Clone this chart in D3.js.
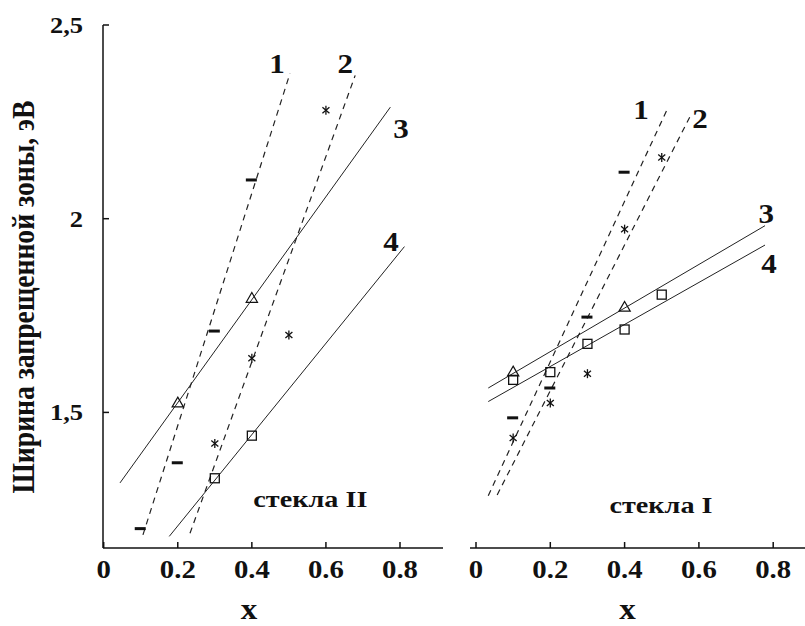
<!DOCTYPE html>
<html>
<head>
<meta charset="utf-8">
<script src="https://cdn.jsdelivr.net/npm/d3@7/dist/d3.min.js"></script>
<style>
  html, body { margin: 0; padding: 0; background: #fff; }
  svg { display: block; }
  text { font-family: "Liberation Serif", "Times New Roman", serif; font-weight: bold; fill: #111; }
</style>
</head>
<body>
<svg id="chart" width="805" height="626"></svg>
<script>
// ---------- data ----------
const xTicks = [0, 0.2, 0.4, 0.6, 0.8];
const xTickLabels = ["0", "0.2", "0.4", "0.6", "0.8"];
const yTicks = [1.5, 2, 2.5];
const yTickLabels = ["1,5", "2", "2,5"];
const yTitle = "Ширина запрещенной зоны, эВ";
const xTitle = "x";

// Panel "стекла II" (left)
const g2Title = "стекла II";
const g2Series1 = [[0.1, 1.20], [0.2, 1.37], [0.3, 1.71], [0.4, 2.10]];
const g2Series2 = [[0.3, 1.42], [0.4, 1.64], [0.5, 1.70], [0.6, 2.28]];
const g2Series3 = [[0.2, 1.52], [0.4, 1.79]];
const g2Series4 = [[0.3, 1.33], [0.4, 1.44]];
const g2Fit1 = [[0.106, 1.184], [0.503, 2.375]];
const g2Fit2 = [[0.233, 1.188], [0.679, 2.370]];
const g2Fit3 = [[0.044, 1.318], [0.774, 2.288]];
const g2Fit4 = [[0.177, 1.180], [0.812, 1.928]];

// Panel "стекла I" (right)
const g1Title = "стекла I";
const g1Series1 = [[0.1, 1.486], [0.2, 1.563], [0.3, 1.746], [0.4, 2.12]];
const g1Series2 = [[0.1, 1.434], [0.2, 1.524], [0.3, 1.60], [0.4, 1.973], [0.5, 2.158]];
const g1Series3 = [[0.1, 1.60], [0.4, 1.767]];
const g1Series4 = [[0.1, 1.584], [0.2, 1.604], [0.3, 1.677], [0.4, 1.714], [0.5, 1.804]];
const g1Fit1 = [[0.033, 1.285], [0.513, 2.279]];
const g1Fit2 = [[0.057, 1.287], [0.580, 2.271]];
const g1Fit3 = [[0.033, 1.563], [0.778, 1.982]];
const g1Fit4 = [[0.033, 1.528], [0.778, 1.932]];

const curveNames = ["1", "2", "3", "4"];

// ---------- layout ----------
const svg = d3.select("#chart");
const Y0 = 548, Y1 = 25;
const y = d3.scaleLinear().domain([1.15, 2.5]).range([Y0, Y1]);
const xL = d3.scaleLinear().domain([0, 0.8]).range([103.7, 400]);
const xR = d3.scaleLinear().domain([0, 0.8]).range([476, 773.2]);
const SX = 1.15;

function label(g, px, py, txt, size, anchor, sx) {
  return g.append("text")
    .attr("transform", `translate(${px},${py}) scale(${sx},1)`)
    .attr("text-anchor", anchor)
    .style("font-size", size + "px")
    .text(txt);
}

// ---------- axes ----------
const axes = svg.append("g").attr("stroke", "#111").attr("stroke-width", 1.5);
axes.append("line").attr("x1", 103).attr("x2", 103).attr("y1", Y1).attr("y2", Y0);
axes.append("line").attr("x1", 103).attr("x2", 443).attr("y1", Y0).attr("y2", Y0);
axes.append("line").attr("x1", 470).attr("x2", 805).attr("y1", Y0).attr("y2", Y0);

yTicks.forEach((t, i) => {
  axes.append("line").attr("x1", 103).attr("x2", 109).attr("y1", y(t)).attr("y2", y(t));
  label(svg, 83, y(t) + 8, yTickLabels[i], 23, "end", SX);
});
[xL, xR].forEach(xs => {
  xTicks.forEach((t, i) => {
    axes.append("line").attr("x1", xs(t)).attr("x2", xs(t)).attr("y1", Y0).attr("y2", Y0 - 6);
    label(svg, xs(t), 578, xTickLabels[i], 25, "middle", SX);
  });
});

// axis titles
svg.append("text")
  .attr("transform", `translate(34,297) scale(${SX},1) rotate(-90)`)
  .attr("text-anchor", "middle")
  .attr("textLength", 393)
  .attr("lengthAdjust", "spacingAndGlyphs")
  .style("font-size", "27px")
  .text(yTitle);
label(svg, xL(0.392), 619, xTitle, 30, "middle", 1.1);
label(svg, xR(0.408), 619, xTitle, 30, "middle", 1.1);

// ---------- marks ----------
function drawPanel(xs, fits, series, names, namePos, title, titlePos, titleLen) {
  const g = svg.append("g");
  const line = d3.line().x(d => xs(d[0])).y(d => y(d[1]));
  fits.forEach((f, i) => {
    g.append("path").attr("d", line(f))
      .attr("fill", "none").attr("stroke", "#222").attr("stroke-width", i < 2 ? 1.2 : 1)
      .attr("stroke-dasharray", i < 2 ? "6,5" : null);
  });
  g.selectAll(".s1").data(series[0]).join("rect")
    .attr("x", d => xs(d[0]) - 6).attr("y", d => y(d[1]) - 1.5)
    .attr("width", 11).attr("height", 3).attr("fill", "#111");
  const ast = g.selectAll(".s2").data(series[1]).join("g")
    .attr("transform", d => `translate(${xs(d[0])},${y(d[1])})`)
    .attr("stroke", "#111").attr("stroke-width", 1.3);
  ast.append("line").attr("x1", 0).attr("x2", 0).attr("y1", -4.5).attr("y2", 4.5);
  ast.append("line").attr("x1", -3.5).attr("x2", 3.5).attr("y1", -3).attr("y2", 3);
  ast.append("line").attr("x1", -3.5).attr("x2", 3.5).attr("y1", 3).attr("y2", -3);
  g.selectAll(".s3").data(series[2]).join("path")
    .attr("d", d3.symbol(d3.symbolTriangle, 55))
    .attr("transform", d => `translate(${xs(d[0])},${y(d[1]) - 1})`)
    .attr("fill", "none").attr("stroke", "#111").attr("stroke-width", 1.2);
  g.selectAll(".s4").data(series[3]).join("rect")
    .attr("x", d => xs(d[0]) - 4.5).attr("y", d => y(d[1]) - 4.5)
    .attr("width", 9).attr("height", 9)
    .attr("fill", "none").attr("stroke", "#111").attr("stroke-width", 1.3);
  names.forEach((n, i) => {
    label(g, xs(namePos[i][0]), y(namePos[i][1]), n, 27, "middle", SX);
  });
  g.append("text")
    .attr("x", xs(titlePos[0])).attr("y", y(titlePos[1]))
    .attr("text-anchor", "middle")
    .attr("textLength", titleLen)
    .attr("lengthAdjust", "spacingAndGlyphs")
    .style("font-size", "24px")
    .text(title);
}

drawPanel(xL, [g2Fit1, g2Fit2, g2Fit3, g2Fit4],
  [g2Series1, g2Series2, g2Series3, g2Series4], curveNames,
  [[0.468, 2.375], [0.652, 2.375], [0.803, 2.209], [0.776, 1.917]],
  g2Title, [0.558, 1.256], 114);

drawPanel(xR, [g1Fit1, g1Fit2, g1Fit3, g1Fit4],
  [g1Series1, g1Series2, g1Series3, g1Series4], curveNames,
  [[0.444, 2.258], [0.603, 2.235], [0.781, 1.99], [0.789, 1.86]],
  g1Title, [0.498, 1.241], 103);
</script>
</body>
</html>
